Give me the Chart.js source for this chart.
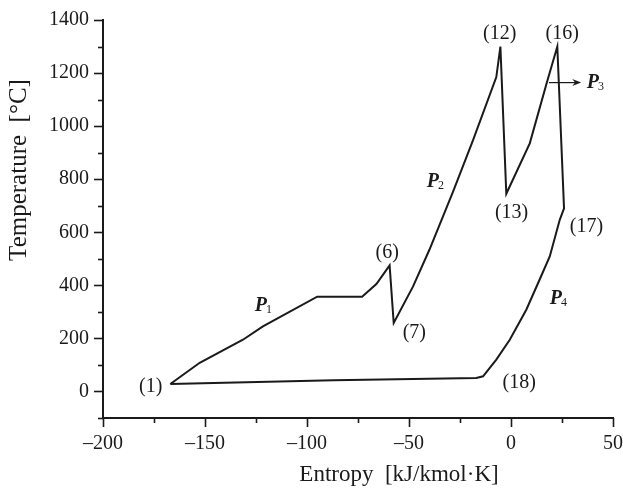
<!DOCTYPE html>
<html>
<head>
<meta charset="utf-8">
<script src="https://cdn.jsdelivr.net/npm/chart.js@4/dist/chart.umd.min.js"></script>
<style>
  html, body { margin: 0; padding: 0; background: #fff; }
  #wrap { width: 623px; height: 491px; }
</style>
</head>
<body>
<div id="wrap"><canvas id="c" width="623" height="491"></canvas></div>
<script>
// Cycle path: entropy (x) and temperature (y)
const entropy = [-167, -152.6, -131.4, -121.6, -95, -73, -66, -59.5, -57.5, -48, -40, -28.4, -18.6, -7.2, -5.2, -2.3, 9.2, 17.4, 22.7, 26, 23.9, 19, 14, 7.5, -0.6, -7.2, -13.7, -17, -87, -167];
const temperature = [28, 108, 195, 245, 357, 357, 405, 475, 258, 396, 534, 753, 947, 1185, 1300, 745, 935, 1160, 1300, 690, 647, 509, 421, 308, 195, 120, 57, 51, 42, 28];

// State-point labels
const stateLabels = ['(1)', '(6)', '(7)', '(12)', '(13)', '(16)', '(17)', '(18)'];
const stateLabelX = [-176.6, -60.7, -47.4, -5.5, 0.3, 25.1, 37, 4];
const stateLabelY = [19, 522, 221, 1350, 672, 1350, 621, 33];

// Process labels P1..P4 (left edge of "P", vertical centre)
const procSubs = ['1', '2', '3', '4'];
const procX = [-125.6, -41.3, 37.1, 19];
const procY = [323, 789, 1162, 350];

// Arrow toward P3
const arrowX = [18.6, 34.4];
const arrowY = [1164, 1164];

const yTickLabels = [0, 200, 400, 600, 800, 1000, 1200, 1400];
const xTickLabels = [-200, -150, -100, -50, 0, 50];

const points = entropy.map((x, i) => ({ x: x, y: temperature[i] }));
const FONT = "'Liberation Serif', 'Times New Roman', serif";
const INK = '#1a1a1a';
const fmt = v => (v < 0 ? '\u2013' + Math.abs(v) : String(v));

const decorPlugin = {
  id: 'decor',
  afterDraw(chart) {
    const ctx = chart.ctx;
    const xs = chart.scales.x, ys = chart.scales.y;
    const area = chart.chartArea;
    ctx.save();
    ctx.strokeStyle = INK;
    ctx.lineWidth = 1.6;
    // y ticks (outward, left)
    ys.ticks.forEach(t => {
      const py = Math.round(ys.getPixelForValue(t.value)) + 0.5;
      const len = yTickLabels.includes(t.value) ? 9 : 5;
      ctx.beginPath();
      ctx.moveTo(area.left, py);
      ctx.lineTo(area.left - len, py);
      ctx.stroke();
    });
    // x ticks (outward, down)
    xs.ticks.forEach(t => {
      const px = Math.round(xs.getPixelForValue(t.value)) + 0.5;
      const len = xTickLabels.includes(t.value) ? 9 : 5;
      ctx.beginPath();
      ctx.moveTo(px, area.bottom);
      ctx.lineTo(px, area.bottom + len);
      ctx.stroke();
    });
    // state labels
    ctx.fillStyle = INK;
    ctx.font = '20px ' + FONT;
    ctx.textAlign = 'center';
    ctx.textBaseline = 'middle';
    stateLabels.forEach((s, i) => {
      ctx.fillText(s, xs.getPixelForValue(stateLabelX[i]), ys.getPixelForValue(stateLabelY[i]));
    });
    // process labels
    ctx.textAlign = 'left';
    procSubs.forEach((s, i) => {
      const px = xs.getPixelForValue(procX[i]);
      const py = ys.getPixelForValue(procY[i]);
      ctx.font = 'italic bold 20px ' + FONT;
      ctx.fillText('P', px, py);
      const w = ctx.measureText('P').width;
      ctx.font = '12px ' + FONT;
      ctx.fillText(s, px + w - 1, py + 4);
    });
    // arrow
    const ax0 = xs.getPixelForValue(arrowX[0]), ax1 = xs.getPixelForValue(arrowX[1]);
    const ay = ys.getPixelForValue(arrowY[0]);
    ctx.lineWidth = 1.2;
    ctx.beginPath();
    ctx.moveTo(ax0, ay);
    ctx.lineTo(ax1 - 6, ay);
    ctx.stroke();
    ctx.beginPath();
    ctx.moveTo(ax1, ay);
    ctx.lineTo(ax1 - 9, ay - 3.5);
    ctx.lineTo(ax1 - 6, ay);
    ctx.lineTo(ax1 - 9, ay + 3.5);
    ctx.closePath();
    ctx.fill();
    // axis titles
    ctx.textAlign = 'center';
    ctx.textBaseline = 'middle';
    ctx.font = '23px ' + FONT;
    ctx.fillText('Entropy  [kJ/kmol\u00B7K]', 399, 475);
    ctx.save();
    ctx.translate(19, 170);
    ctx.rotate(-Math.PI / 2);
    ctx.font = '25px ' + FONT;
    ctx.fillText('Temperature  [\u00B0C]', 0, 0);
    ctx.restore();
    ctx.restore();
  }
};

new Chart(document.getElementById('c'), {
  type: 'scatter',
  data: {
    datasets: [{
      data: points,
      showLine: true,
      tension: 0,
      borderColor: INK,
      borderWidth: 2,
      pointRadius: 0,
      fill: false
    }]
  },
  options: {
    responsive: false,
    animation: false,
    layout: { padding: { top: 20, right: 10, left: 0, bottom: 0 } },
    plugins: { legend: { display: false }, tooltip: { enabled: false } },
    scales: {
      x: {
        type: 'linear',
        min: -200, max: 50,
        grid: { display: false, drawTicks: false },
        border: { display: true, color: INK, width: 2 },
        ticks: {
          stepSize: 25,
          autoSkip: false,
          maxRotation: 0,
          padding: 14,
          color: INK,
          font: { family: FONT, size: 20 },
          callback: v => (xTickLabels.includes(v) ? fmt(v) : '')
        },
        afterFit: s => { s.height = 73; s.paddingLeft = 0; s.paddingRight = 0; }
      },
      y: {
        type: 'linear',
        min: -100, max: 1400,
        grid: { display: false, drawTicks: false },
        border: { display: true, color: INK, width: 2 },
        ticks: {
          stepSize: 100,
          autoSkip: false,
          padding: 14,
          color: INK,
          font: { family: FONT, size: 20 },
          callback: v => (yTickLabels.includes(v) ? fmt(v) : '')
        },
        afterFit: s => { s.width = 103; s.paddingTop = 0; s.paddingBottom = 0; }
      }
    }
  },
  plugins: [decorPlugin]
});
</script>
</body>
</html>
